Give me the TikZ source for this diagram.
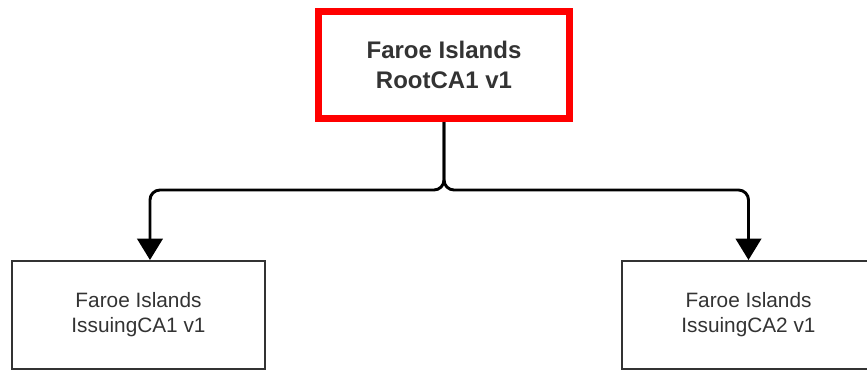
\documentclass[tikz,border=0pt]{standalone}
\usepackage{fontspec}
\setmainfont{Liberation Sans}
\usetikzlibrary{arrows.meta}

\definecolor{rootred}{RGB}{255,0,0}
\definecolor{boxgray}{RGB}{51,51,51}

\tikzset{
  rootbox/.style={draw=rootred, line width=5.25pt, fill=white, minimum width=188.25pt, minimum height=80.25pt, align=center, text=boxgray, font=\fontsize{18}{23}\selectfont\bfseries},
  cabox/.style={draw=boxgray, line width=1.5pt, fill=white, minimum width=189.75pt, minimum height=81pt, align=center, text=boxgray, font=\fontsize{15.6}{18.8}\selectfont},
  link/.style={draw=black, line width=2.2pt, rounded corners=7.5pt, -{Triangle[length=16pt,width=19pt]}}
}

\begin{document}
\begin{tikzpicture}[x=0.75pt,y=0.75pt,yscale=-1,xscale=1]
        \useasboundingbox (0,0) rectangle (867,371);

        %Shape: Rectangle [id:root]
        \node [rootbox] (root) at (444,65) {Faroe Islands\\RootCA1 v1};
        %Shape: Rectangle [id:issuing1]
        \node [cabox] (issuing1) at (138.5,315) {Faroe Islands\\IssuingCA1 v1};
        %Shape: Rectangle [id:issuing2]
        \node [cabox] (issuing2) at (748.5,315) {Faroe Islands\\IssuingCA2 v1};

        \coordinate (split) at (444,190);

        %Connector: root to issuing1
        \draw [link] (root.south) -- (split) -| ([xshift=8.6pt]issuing1.north);
        %Connector: root to issuing2
        \draw [link] (root.south) -- (split) -| (issuing2.north);

    \end{tikzpicture}
\end{document}
